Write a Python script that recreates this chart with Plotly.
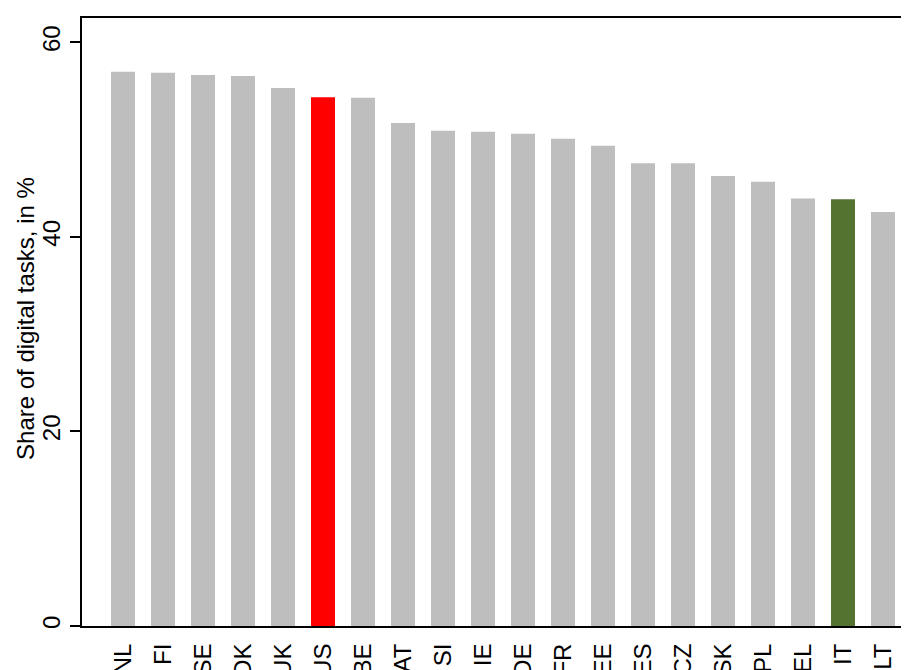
import plotly.graph_objects as go

countries = ["NL", "FI", "SE", "DK", "UK", "US", "BE", "AT", "SI", "IE",
             "DE", "FR", "EE", "ES", "CZ", "SK", "PL", "EL", "IT", "LT"]
share_digital = [56.97, 56.86, 56.65, 56.55, 55.3, 54.36, 54.3, 51.7, 50.9, 50.8,
                 50.6, 50.08, 49.36, 47.58, 47.58, 46.27, 45.66, 43.94, 43.87, 42.57]
highlight = {"US": "#FF0000", "IT": "#557330"}
base_color = "#BEBEBE"

colors = [highlight.get(c, base_color) for c in countries]
xpos = list(range(len(countries)))

fig = go.Figure(go.Bar(
    x=xpos, y=share_digital, width=0.6,
    marker=dict(color=colors, line=dict(width=0)),
))

# page body has an 8px default margin; compensate so the plot lands where the reference has it
font_family = "Liberation Sans, Arial, sans-serif"
plot_w = 901 - 74
fig.update_layout(
    width=901, height=662,
    margin=dict(l=74, r=0, t=10, b=44),
    plot_bgcolor="white", paper_bgcolor="white",
    showlegend=False,
    font=dict(family=font_family, size=24, color="black"),
    xaxis=dict(
        range=[-1.025, 19.65], tickmode="array", tickvals=xpos, ticktext=countries,
        tickangle=-90, ticks="", showgrid=False, zeroline=False,
        showline=True, linecolor="black", linewidth=2, mirror=True,
        ticklabelstandoff=6, automargin=False,
        tickfont=dict(size=24),
    ),
    yaxis=dict(
        range=[0, 62.5], tickvals=[0, 20, 40, 60], tickangle=-90,
        ticks="outside", ticklen=10, tickwidth=1.5, tickcolor="black",
        showgrid=False, zeroline=False,
        showline=True, linecolor="black", linewidth=2, mirror=False,
        automargin=False, tickfont=dict(size=24),
    ),
    annotations=[dict(
        text="Share of digital tasks, in %", xref="paper", yref="paper",
        x=(26 - 82) / plot_w, y=0.505, xanchor="center", yanchor="middle",
        textangle=-90, showarrow=False, font=dict(size=24),
    )],
)

fig.write_html("out.html")
